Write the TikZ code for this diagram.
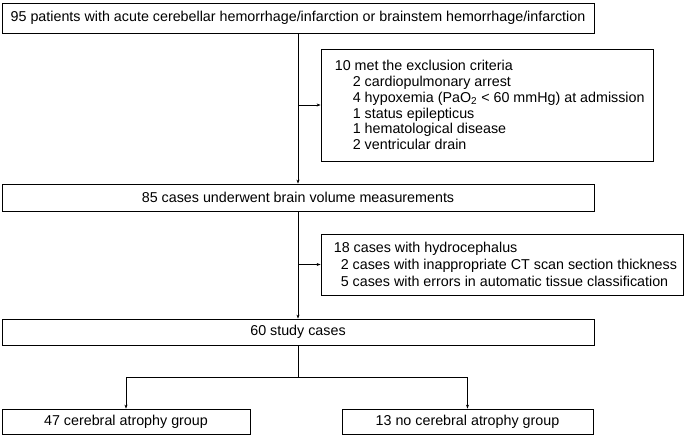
\documentclass[tikz,border=0pt]{standalone}
\usepackage{fontspec}
\setmainfont{Liberation Sans}
\usetikzlibrary{arrows.meta}
\begin{document}
\begin{tikzpicture}[x=1pt,y=-1pt,
  box/.style={draw, line width=0.8pt, inner sep=0pt, font=\fontsize{14.3}{16}\selectfont},
  listtext/.style={inner sep=0pt, align=left, anchor=west},
  arr/.style={line width=0.8pt, -{Stealth[length=4pt,width=3pt]}},
  conn/.style={line width=0.8pt}]
\useasboundingbox (0,0) rectangle (685,436);
\node[box, minimum width=592pt, minimum height=30pt] (top) at (298,18)
  {95 patients with acute cerebellar hemorrhage/infarction or brainstem hemorrhage/infarction};
\node[box, minimum width=332pt, minimum height=112pt] (excl) at (487,105) {};
\node[listtext, font=\fontsize{14.3}{15.9}\selectfont] (excltext) at ([xshift=14pt]excl.west)
  {10 met the exclusion criteria\\
   \hspace*{18pt}2 cardiopulmonary arrest\\
   \hspace*{18pt}4 hypoxemia (PaO\textsubscript{2} < 60 mmHg) at admission\\
   \hspace*{18pt}1 status epilepticus\\
   \hspace*{18pt}1 hematological disease\\
   \hspace*{18pt}2 ventricular drain};
\node[box, minimum width=592pt, minimum height=27pt] (b85) at (298,197.5)
  {85 cases underwent brain volume measurements};
\node[box, minimum width=362pt, minimum height=61pt] (hydro) at (502,264.5) {};
\node[listtext, font=\fontsize{14.3}{17}\selectfont] (hydrotext) at ([xshift=13pt]hydro.west)
  {18 cases with hydrocephalus\\
   \hspace*{7pt}2 cases with inappropriate CT scan section thickness\\
   \hspace*{7pt}5 cases with errors in automatic tissue classification};
\node[box, minimum width=592pt, minimum height=26pt] (b60) at (298,332)
  {60 study cases};
\node[box, minimum width=248pt, minimum height=25pt] (left) at (126,421.5)
  {47 cerebral atrophy group};
\node[box, minimum width=251pt, minimum height=25pt] (right) at (467.5,421.5)
  {13 no cerebral atrophy group};
\coordinate (j1) at (top.south |- excl.west);
\coordinate (j2) at (b85.south |- hydro.west);
\coordinate (split) at (298,377);
\draw[arr] (top.south) -- (b85.north);
\draw[arr] (j1) -- (excl.west);
\draw[arr] (b85.south) -- (b60.north);
\draw[arr] (j2) -- (hydro.west);
\draw[conn] (b60.south) -- (split);
\draw[arr] (split) -| (left.north);
\draw[arr] (split) -| (right.north);
\end{tikzpicture}
\end{document}
